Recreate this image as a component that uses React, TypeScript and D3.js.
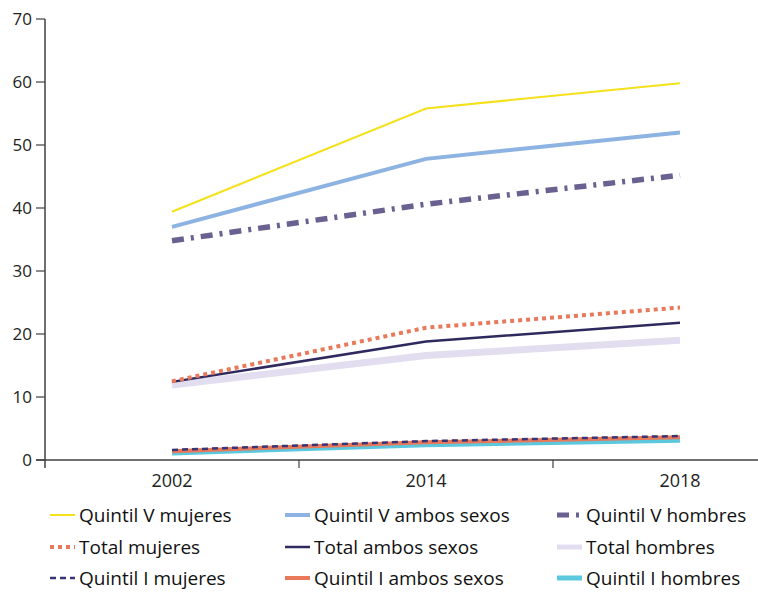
import React, { useEffect, useRef } from 'react'
import * as d3 from 'd3'

const years = ['2002', '2014', '2018']
const yTicks = [0, 10, 20, 30, 40, 50, 60, 70]

const seriesNames = [
  'Quintil V mujeres', 'Quintil V ambos sexos', 'Quintil V hombres',
  'Total mujeres', 'Total ambos sexos', 'Total hombres',
  'Quintil I mujeres', 'Quintil I ambos sexos', 'Quintil I hombres',
]
const quintilVMujeres = [39.4, 55.8, 59.8]
const quintilVAmbos = [37.0, 47.8, 52.0]
const quintilVHombres = [34.8, 40.6, 45.2]
const totalMujeres = [12.5, 21.0, 24.2]
const totalAmbos = [12.4, 18.8, 21.8]
const totalHombres = [11.9, 16.6, 19.0]
const quintilIMujeres = [1.6, 3.0, 3.8]
const quintilIAmbos = [1.4, 2.8, 3.6]
const quintilIHombres = [1.2, 2.5, 3.2]

const seriesValues = [
  quintilVMujeres, quintilVAmbos, quintilVHombres,
  totalMujeres, totalAmbos, totalHombres,
  quintilIMujeres, quintilIAmbos, quintilIHombres,
]

// stroke styles per series
const styles = [
  { color: '#f5e11a', width: 2, dash: null },
  { color: '#8db3e2', width: 4, dash: null },
  { color: '#6b6190', width: 5.5, dash: '12,7,3,7' },
  { color: '#e8795b', width: 4, dash: '4,4' },
  { color: '#2f2a5e', width: 2.5, dash: null },
  { color: '#e2def0', width: 7, dash: null },
  { color: '#3b3474', width: 2.5, dash: '6,4' },
  { color: '#e8795b', width: 4, dash: null },
  { color: '#5bc8de', width: 6, dash: null },
]
// drawing order, thick background lines first
const drawOrder = [5, 8, 7, 6, 4, 3, 2, 1, 0]

const W = 758
const H = 592
const FONT = "'Open Sans', 'Lato', sans-serif"

export default function App() {
  const ref = useRef<SVGSVGElement>(null)

  useEffect(() => {
    if (!ref.current) return
    const svg = d3.select(ref.current)
    svg.selectAll('*').remove()

    const left = 45
    const x = d3.scaleBand<string>().domain(years).range([left, 807]).padding(0)
    const y = d3.scaleLinear().domain([0, 70]).range([460, 19])

    // y axis
    svg.append('line')
      .attr('x1', left).attr('x2', left)
      .attr('y1', y(70)).attr('y2', y(0) + 8)
      .attr('stroke', '#404040').attr('stroke-width', 1.5)
    yTicks.forEach(t => {
      svg.append('line')
        .attr('x1', left - 9).attr('x2', left)
        .attr('y1', y(t)).attr('y2', y(t))
        .attr('stroke', '#404040').attr('stroke-width', 1.2)
      svg.append('text')
        .attr('x', left - 13).attr('y', y(t))
        .attr('dy', '0.35em')
        .attr('text-anchor', 'end')
        .style('font-family', FONT).style('font-size', '17px')
        .style('fill', '#222')
        .text(t)
    })

    // x axis
    svg.append('line')
      .attr('x1', left - 9).attr('x2', W)
      .attr('y1', y(0)).attr('y2', y(0))
      .attr('stroke', '#404040').attr('stroke-width', 1.5)
    years.slice(1).forEach(yr => {
      const xx = x(yr)!
      svg.append('line')
        .attr('x1', xx).attr('x2', xx)
        .attr('y1', y(0)).attr('y2', y(0) + 8)
        .attr('stroke', '#404040').attr('stroke-width', 1.2)
    })
    years.forEach(yr => {
      svg.append('text')
        .attr('x', x(yr)! + x.bandwidth() / 2)
        .attr('y', y(0) + 27)
        .attr('text-anchor', 'middle')
        .style('font-family', FONT).style('font-size', '18px')
        .style('fill', '#222')
        .text(yr)
    })

    const line = d3.line<number>()
      .x((_, i) => x(years[i])! + x.bandwidth() / 2)
      .y(d => y(d))

    drawOrder.forEach(k => {
      const s = styles[k]
      svg.append('path')
        .attr('d', line(seriesValues[k]))
        .attr('fill', 'none')
        .attr('stroke', s.color)
        .attr('stroke-width', s.width)
        .attr('stroke-dasharray', s.dash)
    })

    // legend
    const colX = [50, 285, 557]
    const rowY = [515, 547, 578]
    seriesNames.forEach((name, k) => {
      const s = styles[k]
      const cx = colX[k % 3]
      const cy = rowY[Math.floor(k / 3)]
      svg.append('line')
        .attr('x1', cx).attr('x2', cx + 25)
        .attr('y1', cy).attr('y2', cy)
        .attr('stroke', s.color)
        .attr('stroke-width', Math.min(s.width, 5))
        .attr('stroke-dasharray', s.dash)
      svg.append('text')
        .attr('x', cx + 29).attr('y', cy)
        .attr('dy', '0.35em')
        .style('font-family', FONT).style('font-size', '19px')
        .style('fill', '#111')
        .text(name)
    })
  }, [])

  return (
    <svg ref={ref} width={W} height={H}
      style={{ position: 'absolute', left: 0, top: 0, background: '#fff' }} />
  )
}
